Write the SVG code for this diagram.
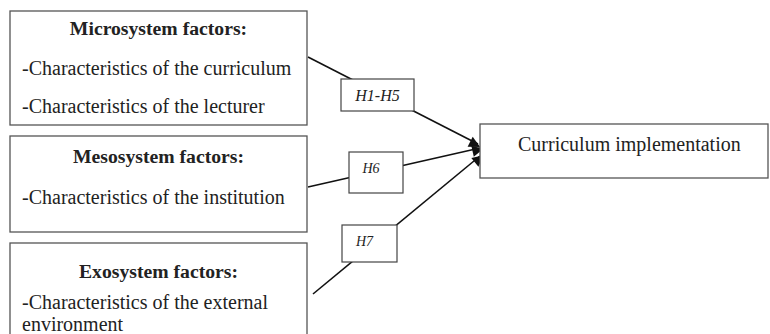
<svg xmlns="http://www.w3.org/2000/svg" width="770" height="334" viewBox="0 0 770 334">
<style>
.box{fill:#fff;stroke:#555;stroke-width:1.3}
.lbl{fill:#fff;stroke:#444;stroke-width:1.2}
.t{font-family:"Liberation Serif","Times New Roman",serif;font-size:20px;fill:#222}
.b{font-weight:bold;text-anchor:middle;font-size:19.7px}
.i{font-style:italic;text-anchor:middle}
.c{stroke:#111;stroke-width:1.6;fill:none}
</style>
<defs>
<marker id="ah" viewBox="0 0 10 10" refX="10" refY="5" markerWidth="8" markerHeight="8" markerUnits="userSpaceOnUse" orient="auto" overflow="visible">
<path d="M0,0 L10,5 L0,10 Z" fill="#111" transform="scale(1.4)"/>
</marker>
</defs>
<rect width="770" height="334" fill="#fff"/>
<g id="connectors">
<line class="c" x1="308" y1="57" x2="478" y2="144" marker-end="url(#ah)"/>
<line class="c" x1="308" y1="187" x2="480" y2="148" marker-end="url(#ah)"/>
<line class="c" x1="313" y1="294" x2="480" y2="156" marker-end="url(#ah)"/>
</g>
<g id="micro">
<rect class="box" x="10" y="11" width="297" height="114"/>
<text class="t b" x="158.5" y="35">Microsystem factors:</text>
<text class="t" x="22" y="75">-Characteristics of the curriculum</text>
<text class="t" x="22" y="113">-Characteristics of the lecturer</text>
</g>
<g id="meso">
<rect class="box" x="10" y="136" width="297" height="96"/>
<text class="t b" x="158.5" y="163">Mesosystem factors:</text>
<text class="t" x="22" y="204">-Characteristics of the institution</text>
</g>
<g id="exo">
<rect class="box" x="10" y="243" width="297" height="100"/>
<text class="t b" x="158.5" y="278">Exosystem factors:</text>
<text class="t" x="22" y="309">-Characteristics of the external</text>
<text class="t" x="22" y="331">environment</text>
</g>
<g id="target">
<rect class="box" x="480" y="124" width="288" height="54"/>
<text class="t" x="518" y="151">Curriculum implementation</text>
</g>
<g id="h1h5">
<rect class="lbl" x="341" y="79" width="73" height="32"/>
<text class="t i" x="377.5" y="101" style="font-size:16px">H1-H5</text>
</g>
<g id="h6">
<rect class="lbl" x="349" y="152" width="54" height="41"/>
<text class="t i" x="371" y="173" style="font-size:14px">H6</text>
</g>
<g id="h7">
<rect class="lbl" x="342" y="225" width="55" height="37"/>
<text class="t i" x="364.5" y="246" style="font-size:14px">H7</text>
</g>
</svg>
